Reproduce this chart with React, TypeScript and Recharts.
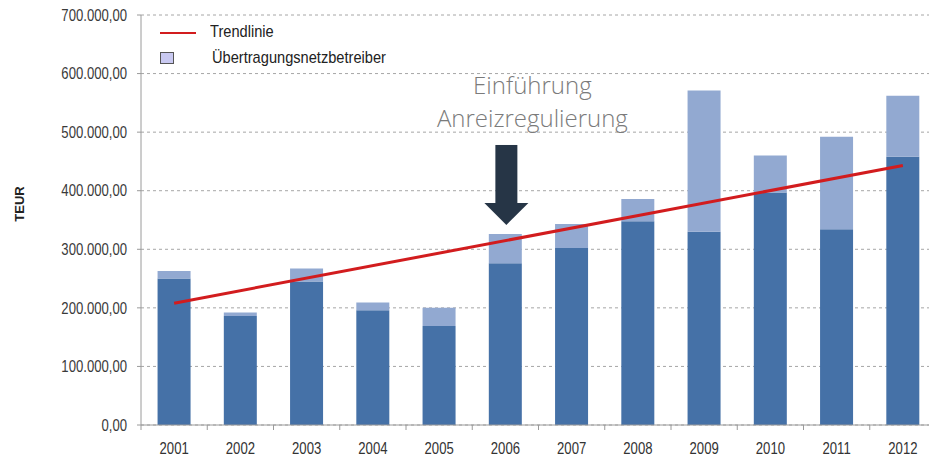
import {
  Bar,
  CartesianGrid,
  ComposedChart,
  Line,
  ReferenceDot,
  XAxis,
  YAxis,
} from "recharts";

// TEUR
const years = ["2001", "2002", "2003", "2004", "2005", "2006", "2007", "2008", "2009", "2010", "2011", "2012"];
const baseValues = [250, 186, 245, 196, 169, 276, 302, 348, 330, 397, 334, 458];
const totalValues = [263, 192, 267, 209, 200, 326, 343, 386, 571, 460, 492, 562];
// trend line: only its two ends are given, the line joins them
const trendValues: (number | null)[] = [208, null, null, null, null, null, null, null, null, null, null, 443];
const yTicks = [0, 100000, 200000, 300000, 400000, 500000, 600000, 700000];

const data = years.map((year, i) => ({
  year,
  base: baseValues[i] * 1000,
  upper: (totalValues[i] - baseValues[i]) * 1000,
  trend: trendValues[i] === null ? null : (trendValues[i] as number) * 1000,
}));

const CHART_W = 936;
const CHART_H = 457;
const Y_AXIS_W = 141;
const BAND = (CHART_W - Y_AXIS_W) / years.length;

// no narrow font installed, so squeeze Liberation Sans a little
const FONT = '"Liberation Sans", Arial, sans-serif';
const NARROW = 0.82;
const DARK = "#4571a7";
const LIGHT = "#92a9d1";
const RED = "#d21c1e";

const formatDe = (value: number) => {
  const s = Math.round(value).toString().replace(/\B(?=(\d{3})+(?!\d))/g, ".");
  return `${s},00`;
};

function YearTick({ x, y, payload }: any) {
  return (
    <g>
      <line x1={x - BAND / 2} x2={x - BAND / 2} y1={y} y2={y + 5} stroke="#9a9a9a" />
      <text
        transform={`translate(${x}, ${y + 29}) scale(${NARROW}, 1)`}
        textAnchor="middle"
        fill="#333"
        fontSize={16}
        fontFamily={FONT}
      >
        {payload.value}
      </text>
    </g>
  );
}

function ValueTick({ x, y, payload }: any) {
  return (
    <text
      transform={`translate(${x}, ${y}) scale(${NARROW}, 1)`}
      textAnchor="end"
      dy="0.36em"
      fill="#3a3a3a"
      fontSize={16}
      fontFamily={FONT}
    >
      {formatDe(payload.value)}
    </text>
  );
}

function ArrowNote({ cx, cy }: any) {
  if (cx == null || cy == null) return null;
  const noteFont = '"Open Sans", "Noto Sans", sans-serif';
  return (
    <g>
      <text x={cx + 27} y={cy - 131} textAnchor="middle" fill="#7b7b7b" fontSize={24} fontWeight={300} fontFamily={noteFont}>
        Einführung
      </text>
      <text x={cx + 27} y={cy - 98} textAnchor="middle" fill="#7b7b7b" fontSize={24} fontWeight={300} fontFamily={noteFont}>
        Anreizregulierung
      </text>
      <rect x={cx - 10} y={cy - 80} width={22} height={59} fill="#263546" />
      <polygon points={`${cx - 21},${cy - 22} ${cx + 23},${cy - 22} ${cx + 1},${cy}`} fill="#263546" />
    </g>
  );
}

export default function App() {
  return (
    <div style={{ position: "absolute", left: 0, top: 0, width: 929, height: 457, overflow: "hidden", background: "#fff" }}>
      <ComposedChart
        width={CHART_W}
        height={CHART_H}
        data={data}
        margin={{ top: 15, right: 0, bottom: 2, left: 0 }}
        barCategoryGap="25%"
      >
        <CartesianGrid vertical={false} stroke="#a6a6a6" strokeDasharray="3 3" />
        <XAxis
          dataKey="year"
          height={30}
          tickLine={false}
          tickSize={0}
          tickMargin={0}
          axisLine={{ stroke: "#9a9a9a" }}
          tick={<YearTick />}
          interval={0}
        />
        <YAxis
          width={Y_AXIS_W}
          domain={[0, 700000]}
          ticks={yTicks}
          tickSize={4}
          tickMargin={10}
          axisLine={{ stroke: "#9a9a9a" }}
          tickLine={{ stroke: "#9a9a9a" }}
          tick={<ValueTick />}
          label={{
            content: ({ viewBox }: any) => {
              const cx = viewBox.x + 19;
              const cy = viewBox.y + viewBox.height / 2 - 16;
              return (
                <text
                  x={cx}
                  y={cy}
                  transform={`rotate(-90, ${cx}, ${cy})`}
                  textAnchor="middle"
                  dominantBaseline="central"
                  fontSize={13}
                  fontWeight="bold"
                  fill="#222"
                  fontFamily={FONT}
                >
                  TEUR
                </text>
              );
            },
          }}
        />
        <Bar dataKey="base" stackId="a" fill={DARK} isAnimationActive={false} />
        <Bar dataKey="upper" stackId="a" fill={LIGHT} isAnimationActive={false} />
        <Line
          dataKey="trend"
          stroke={RED}
          strokeWidth={3}
          dot={false}
          activeDot={false}
          connectNulls
          isAnimationActive={false}
        />
        <ReferenceDot x="2006" y={341500} r={0} shape={<ArrowNote />} />
      </ComposedChart>
      <div style={{ position: "absolute", left: 160, top: 22, fontFamily: FONT, fontSize: 17, color: "#222" }}>
        <div style={{ position: "relative", height: 25 }}>
          <span style={{ position: "absolute", left: 0, top: 10, width: 36, height: 2, background: RED }} />
          <span
            style={{ position: "absolute", left: 50, top: 0, whiteSpace: "nowrap", transform: "scaleX(0.86)", transformOrigin: "left" }}
          >
            Trendlinie
          </span>
        </div>
        <div style={{ position: "relative", height: 22 }}>
          <span
            style={{
              position: "absolute",
              left: 0,
              top: 5,
              width: 12,
              height: 10,
              background: "#c9c9f1",
              border: "1px solid #555",
            }}
          />
          <span
            style={{ position: "absolute", left: 52, top: 1, whiteSpace: "nowrap", transform: "scaleX(0.86)", transformOrigin: "left" }}
          >
            Übertragungsnetzbetreiber
          </span>
        </div>
      </div>
    </div>
  );
}
